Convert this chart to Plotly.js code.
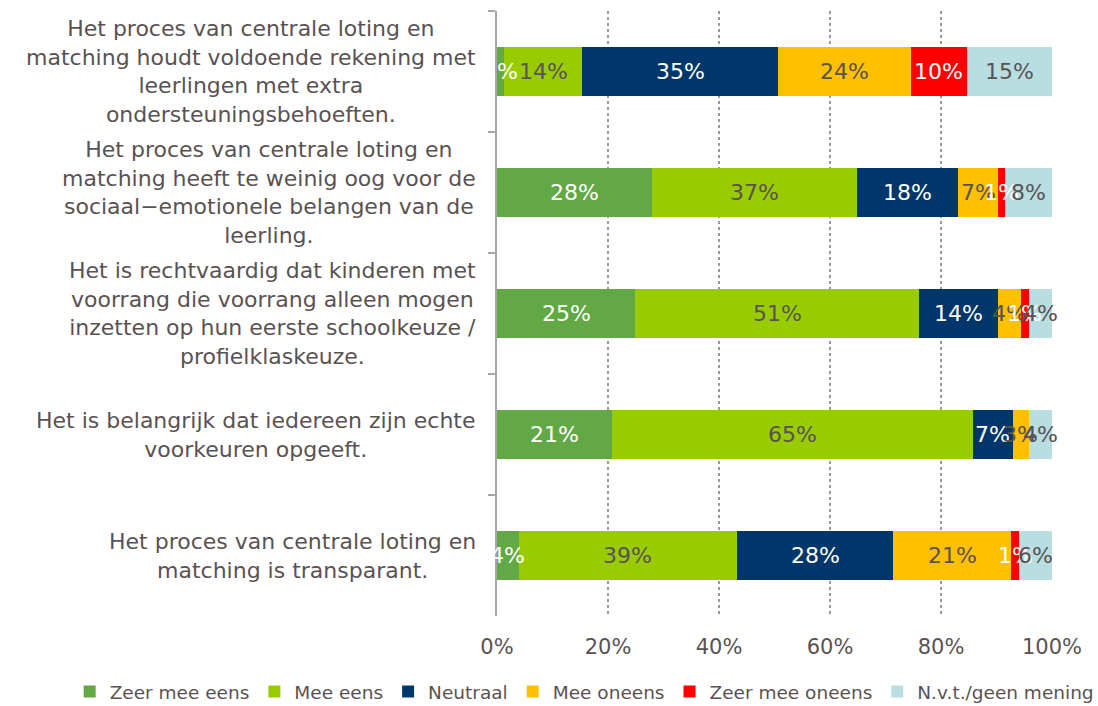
<!DOCTYPE html>
<html>
<head>
<meta charset="utf-8">
<script src="https://cdn.plot.ly/plotly-3.0.1.min.js"></script>
<style>html,body{margin:0;padding:0;background:#fff;}#chart{width:1098px;height:706px;}</style>
</head>
<body>
<div id="chart"></div>
<script>
const categories = [
  "Het proces van centrale loting en<br>matching houdt voldoende rekening met<br>leerlingen met extra<br>ondersteuningsbehoeften.",
  "Het proces van centrale loting en<br>matching heeft te weinig oog voor de<br>sociaal\u2212emotionele belangen van de<br>leerling.",
  "Het is rechtvaardig dat kinderen met<br>voorrang die voorrang alleen mogen<br>inzetten op hun eerste schoolkeuze /<br>profielklaskeuze.",
  "Het is belangrijk dat iedereen zijn echte<br>voorkeuren opgeeft.",
  "Het proces van centrale loting en<br>matching is transparant."
];
const seriesNames = ["Zeer mee eens", "Mee eens", "Neutraal", "Mee oneens", "Zeer mee oneens", "N.v.t./geen mening"];
const zeerMeeEens   = [1.2, 27.9, 24.9, 20.8, 3.9];
const meeEens       = [14.2, 37.0, 51.2, 65.0, 39.4];
const neutraal      = [35.2, 18.2, 14.2, 7.1, 28.1];
const meeOneens     = [24.0, 7.2, 4.1, 2.9, 21.3];
const zeerMeeOneens = [10.0, 1.3, 1.4, 0, 1.4];
const nvt           = [15.4, 8.4, 4.2, 4.2, 5.9];
const xTicks = [0, 20, 40, 60, 80, 100];

const seriesValues = [zeerMeeEens, meeEens, neutraal, meeOneens, zeerMeeOneens, nvt];
const colors = ["#62A845", "#99CC00", "#003669", "#FFC000", "#FF0000", "#B8DEE2"];
const TXT = "#5A5252";
const textColors = ["#FFFFFF", TXT, "#FFFFFF", TXT, "#FFFFFF", TXT];
const FONT = "DejaVu Sans, Verdana, sans-serif";

const traces = seriesValues.map((vals, i) => ({
  type: "bar",
  orientation: "h",
  name: seriesNames[i],
  x: vals,
  y: categories,
  marker: {color: colors[i], line: {width: 0}},
  hoverinfo: "skip"
}));

// category labels (centered multi-line text, right of block at the axis)
const annotations = categories.map((c, i) => ({
  xref: "paper", yref: "y",
  x: -0.034, y: i,
  xanchor: "right", yanchor: "middle",
  align: "center",
  showarrow: false,
  text: c,
  font: {family: FONT, size: 22, color: TXT}
}));

// value labels centered in each stacked segment
categories.forEach((c, r) => {
  let start = 0;
  seriesValues.forEach((vals, s) => {
    const v = vals[r];
    if (v > 0) {
      annotations.push({
        xref: "x", yref: "y",
        x: start + v / 2, y: r,
        xanchor: "center", yanchor: "middle",
        showarrow: false,
        text: Math.round(v) + "%",
        font: {family: FONT, size: 22, color: textColors[s]}
      });
    }
    start += v;
  });
});

const layout = {
  width: 1098, height: 706,
  margin: {l: 497, r: 46, t: 11, b: 90, autoexpand: false},
  paper_bgcolor: "#FFFFFF",
  plot_bgcolor: "#FFFFFF",
  barmode: "stack",
  bargap: 0.6,
  font: {family: FONT, color: TXT},
  xaxis: {
    range: [0, 100],
    tickvals: xTicks,
    ticktext: xTicks.map(t => t + "%"),
    showgrid: true, gridcolor: "#9A9A9A", griddash: "dot", gridwidth: 1.5,
    zeroline: false, showline: false,
    ticks: "outside", ticklen: 12, tickcolor: "rgba(0,0,0,0)",
    tickfont: {family: FONT, size: 21, color: TXT},
    fixedrange: true
  },
  yaxis: {
    type: "category",
    autorange: "reversed",
    showticklabels: false,
    showline: true, linecolor: "#A6A6A6", linewidth: 2,
    ticks: "outside", ticklen: 7, tickcolor: "#A6A6A6", tickwidth: 2,
    tickson: "boundaries",
    showgrid: false, zeroline: false,
    fixedrange: true
  },
  showlegend: true,
  legend: {
    orientation: "h",
    xref: "paper", yref: "paper",
    x: -0.77, xanchor: "left",
    y: -0.1256, yanchor: "middle",
    font: {family: FONT, size: 18.5, color: TXT},
    itemwidth: 30,
    traceorder: "normal"
  },
  annotations: annotations
};

Plotly.newPlot("chart", traces, layout, {displayModeBar: false, staticPlot: true});
</script>
</body>
</html>
